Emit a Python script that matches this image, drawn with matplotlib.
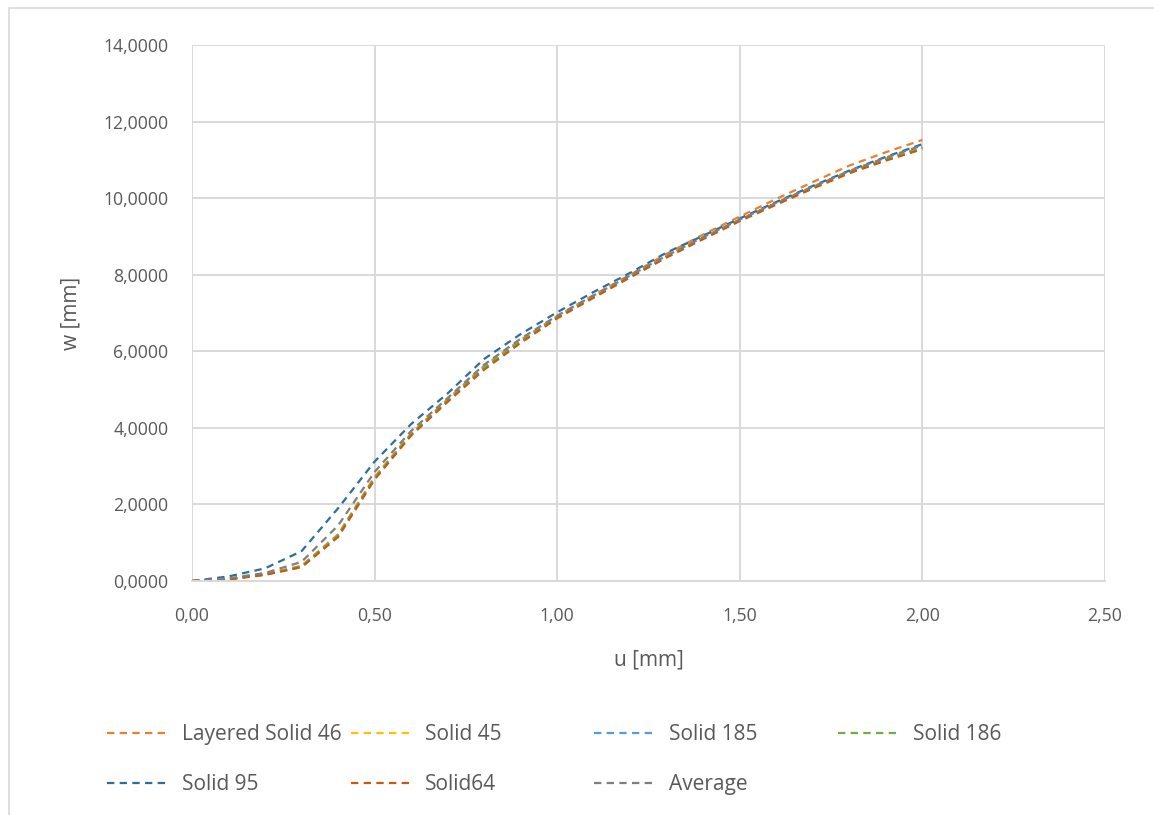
import matplotlib.pyplot as plt
import matplotlib.patches as patches
from matplotlib.lines import Line2D
from matplotlib.ticker import FuncFormatter

plt.rcParams['font.family'] = ['Open Sans', 'DejaVu Sans']
plt.rcParams['font.size'] = 12.7

# displacement u [mm]
u = [0.0, 0.1, 0.2, 0.3, 0.4, 0.5, 0.6, 0.7, 0.8, 0.9, 1.0,
     1.1, 1.2, 1.3, 1.4, 1.5, 1.6, 1.7, 1.8, 1.9, 2.0]

# deflection w [mm] per element type
w_layered46 = [0.0, 0.05, 0.18, 0.40, 1.22, 2.72, 3.85, 4.75, 5.62, 6.30, 6.92,
               7.47, 8.00, 8.55, 9.05, 9.52, 9.98, 10.42, 10.85, 11.20, 11.52]
w_solid45 = [0.0, 0.05, 0.17, 0.39, 1.20, 2.70, 3.84, 4.72, 5.58, 6.27, 6.89,
             7.43, 7.96, 8.49, 8.97, 9.44, 9.87, 10.29, 10.70, 11.03, 11.33]
w_solid185 = [0.0, 0.05, 0.17, 0.38, 1.19, 2.69, 3.83, 4.71, 5.57, 6.26, 6.89,
              7.43, 7.96, 8.49, 8.97, 9.43, 9.87, 10.29, 10.69, 11.02, 11.33]
w_solid186 = [0.0, 0.05, 0.17, 0.38, 1.19, 2.69, 3.83, 4.71, 5.57, 6.26, 6.88,
              7.42, 7.95, 8.48, 8.96, 9.43, 9.86, 10.28, 10.68, 11.01, 11.32]
w_solid95 = [0.0, 0.12, 0.33, 0.78, 1.90, 3.12, 4.10, 4.90, 5.80, 6.45, 7.02,
             7.55, 8.05, 8.58, 9.02, 9.47, 9.90, 10.32, 10.72, 11.08, 11.41]
w_solid64 = [0.0, 0.04, 0.16, 0.36, 1.15, 2.65, 3.80, 4.68, 5.52, 6.22, 6.86,
             7.40, 7.93, 8.45, 8.93, 9.40, 9.83, 10.25, 10.65, 10.98, 11.28]
w_average = [0.0, 0.07, 0.21, 0.50, 1.45, 2.85, 3.92, 4.78, 5.65, 6.33, 6.93,
             7.46, 7.98, 8.50, 8.98, 9.44, 9.88, 10.30, 10.71, 11.06, 11.38]

labels = ['Layered Solid 46', 'Solid 45', 'Solid 185', 'Solid 186',
          'Solid 95', 'Solid64', 'Average']
series = [w_layered46, w_solid45, w_solid185, w_solid186,
          w_solid95, w_solid64, w_average]
colors = ['#ED7D31', '#FFC000', '#5B9BD5', '#70AD47',
          '#2E6E9E', '#C55A11', '#7F7F7F']

txt = '#595959'
grid = '#D9D9D9'
dash = (0, (3.3, 2.4))

fig = plt.figure(figsize=(11.54, 8.15), dpi=100, facecolor='w')
ax = fig.add_axes([0.1664, 0.2871, 0.9575 - 0.1664, 0.9448 - 0.2871])

handles = []
for w, lab, c in zip(series, labels, colors):
    h, = ax.plot(u, w, color=c, lw=1.6, linestyle=dash, label=lab)
    handles.append(h)

ax.set_xlim(0, 2.5)
ax.set_ylim(0, 14)
ax.set_xticks([0, 0.5, 1.0, 1.5, 2.0, 2.5])
ax.set_yticks(range(0, 15, 2))
ax.xaxis.set_major_formatter(FuncFormatter(lambda v, p: ('%.2f' % v).replace('.', ',')))
ax.yaxis.set_major_formatter(FuncFormatter(lambda v, p: ('%.4f' % v).replace('.', ',')))
ax.grid(True, color=grid, lw=1.4)
ax.set_axisbelow(True)
for s in ['top', 'right', 'left']:
    ax.spines[s].set_visible(False)
ax.spines['bottom'].set_color(grid)
ax.spines['bottom'].set_linewidth(1.4)
ax.tick_params(length=0, colors=txt)
ax.tick_params(axis='x', pad=19)
ax.tick_params(axis='y', pad=17)
ax.set_xlabel('u [mm]', color=txt, fontsize=15, labelpad=17)
ax.set_ylabel('w [mm]', color=txt, fontsize=15, labelpad=16)

# legend entries placed in two rows
legpos = [(0.0927, 0.0985), (0.3040, 0.0985), (0.5150, 0.0985), (0.7262, 0.0985),
          (0.0927, 0.0375), (0.3040, 0.0375), (0.5150, 0.0375)]
for h, lab, (lx, ly) in zip(handles, labels, legpos):
    proxy = Line2D([], [], color=h.get_color(), lw=1.6, linestyle=dash)
    fig.legend([proxy], [lab], loc='center left', bbox_to_anchor=(lx, ly),
               frameon=False, handlelength=3.0, handletextpad=0.58,
               borderaxespad=0, borderpad=0,
               labelcolor=txt, fontsize=15)

# chart area border
fig.patches.append(patches.Rectangle((9 / 1154, -0.1), 1.2, 1.1 - 8 / 815,
                                     transform=fig.transFigure, fill=False,
                                     edgecolor=grid, lw=1.2))

fig.savefig('out.png', dpi=100)
